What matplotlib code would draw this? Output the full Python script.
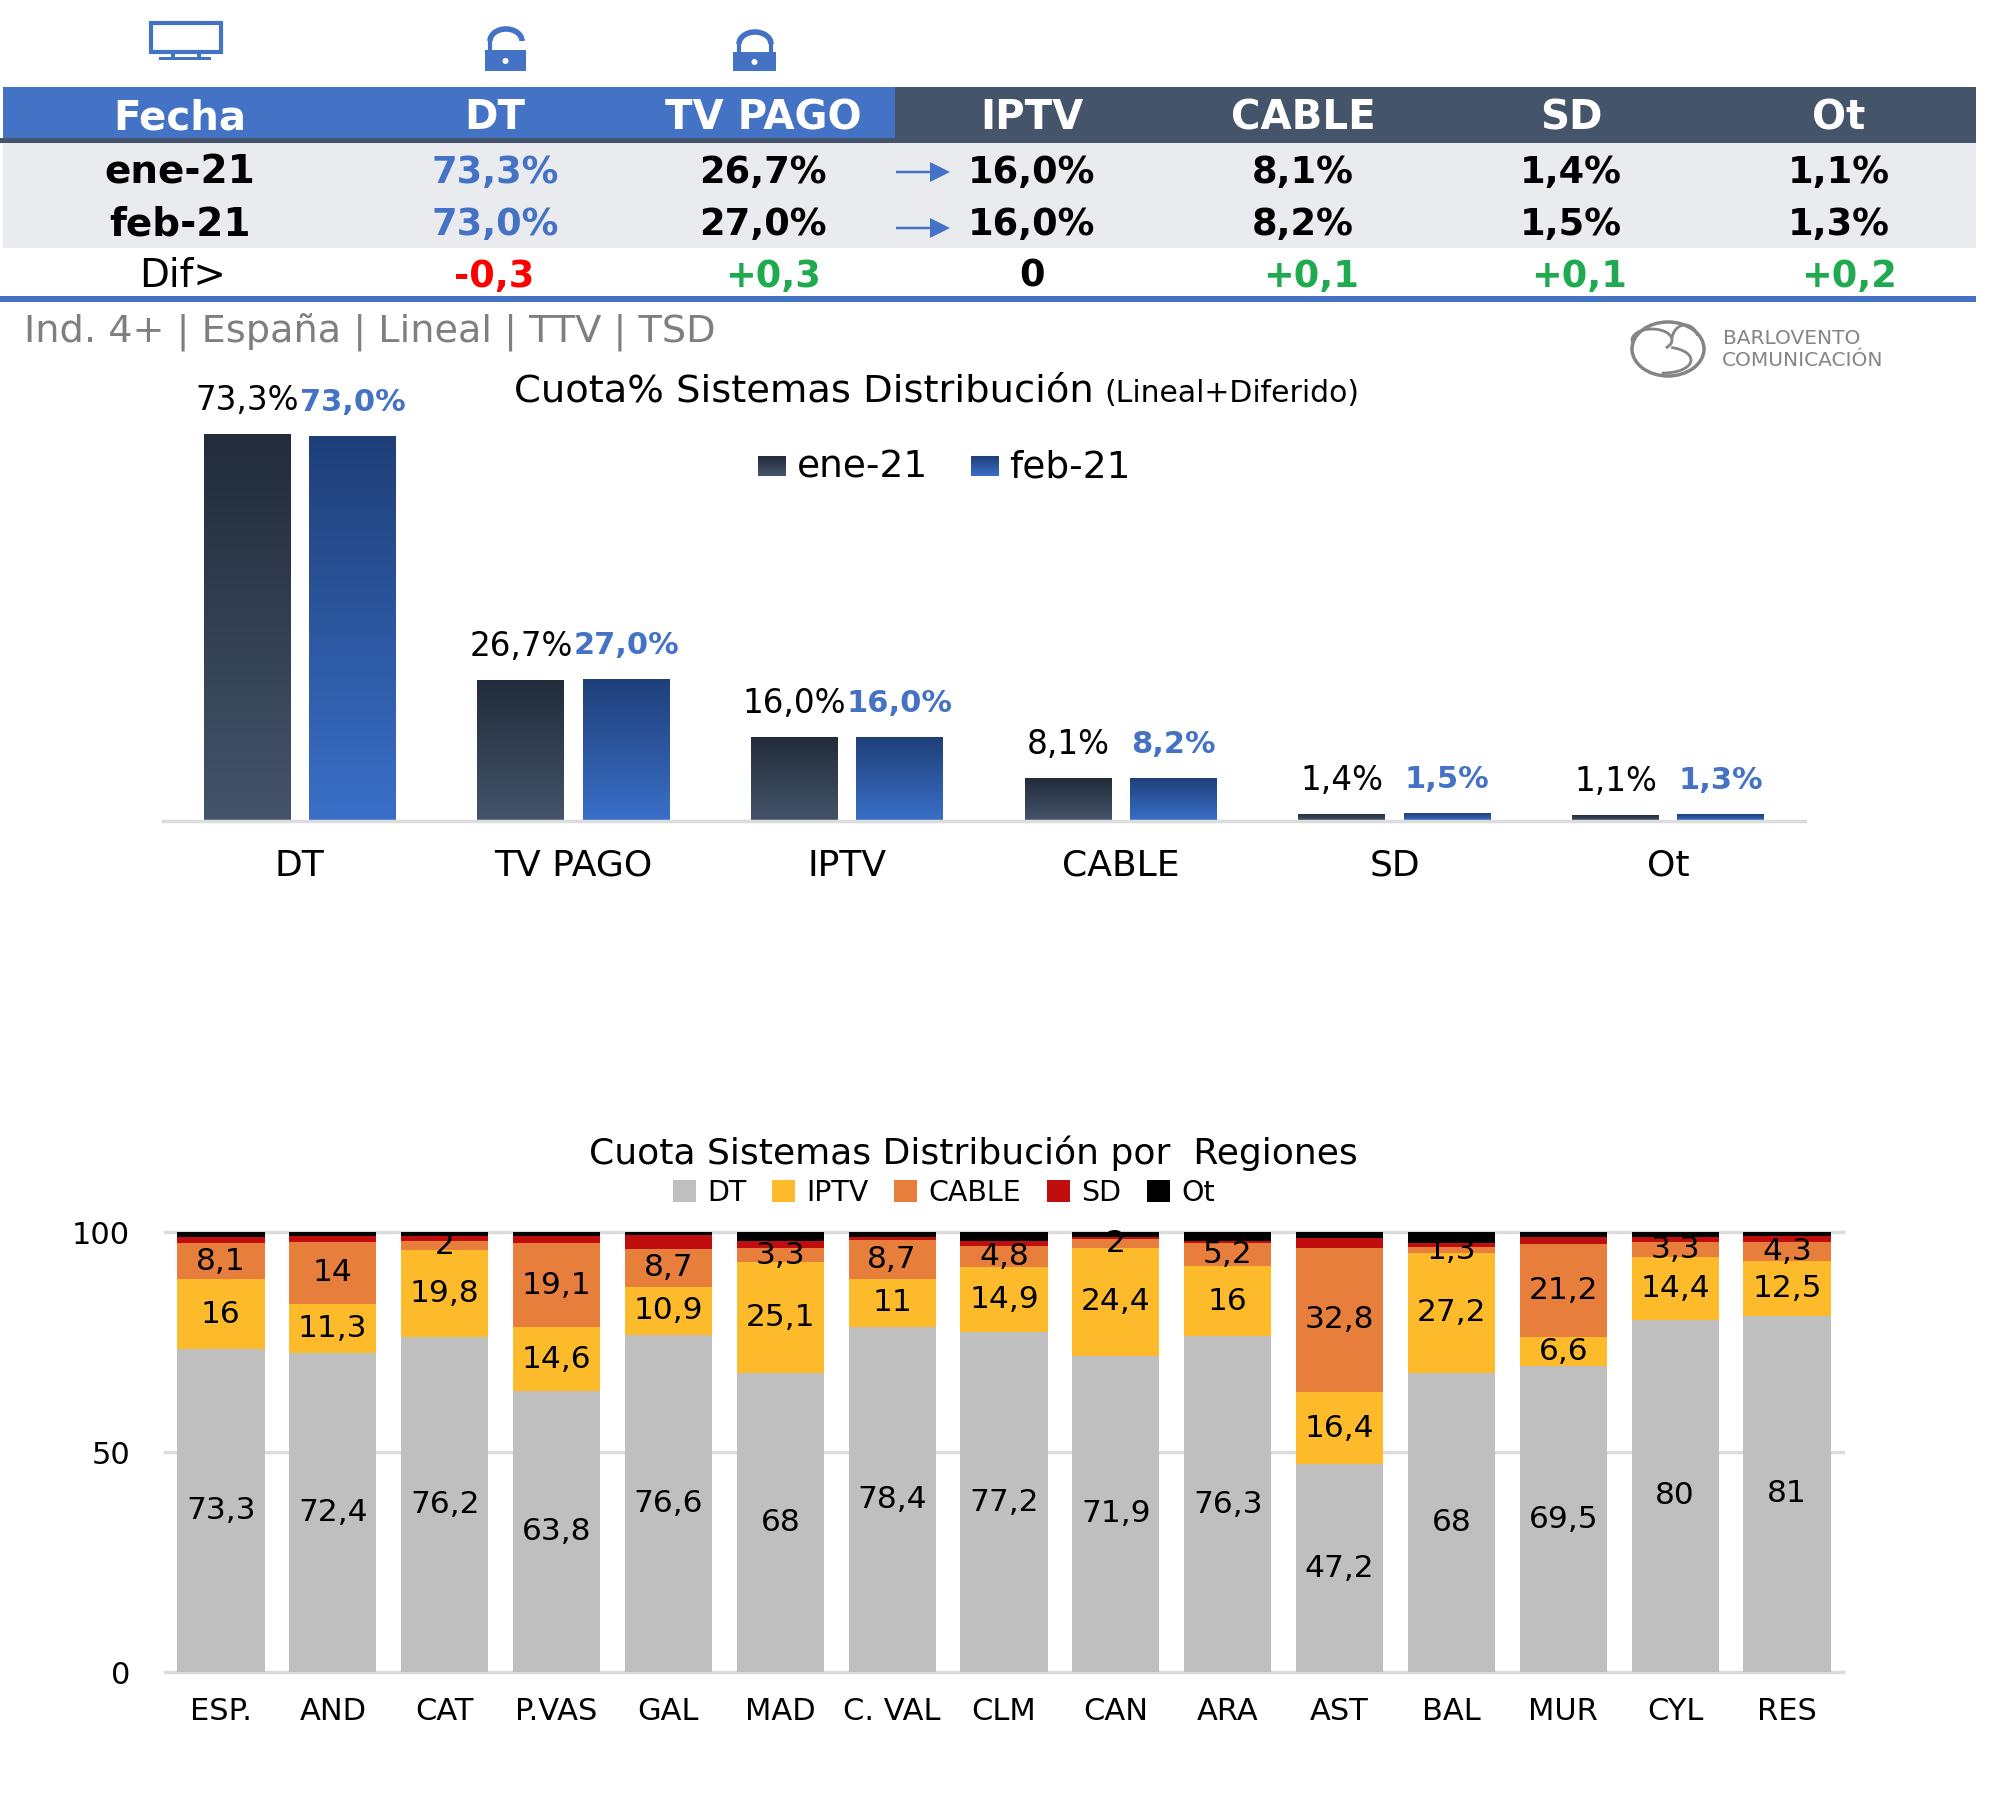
import numpy as np
import matplotlib
matplotlib.use('Agg')
import matplotlib.pyplot as plt
from matplotlib.colors import LinearSegmentedColormap
from matplotlib.patches import Rectangle, Arc, Ellipse, FancyArrow

# table
headers = ['Fecha', 'DT', 'TV PAGO', 'IPTV', 'CABLE', 'SD', 'Ot']
months = ['ene-21', 'feb-21']
share_jan = [73.3, 26.7, 16.0, 8.1, 1.4, 1.1]
share_feb = [73.0, 27.0, 16.0, 8.2, 1.5, 1.3]
dif_labels = ['-0,3', '+0,3', '0', '+0,1', '+0,1', '+0,2']

# regions
regions = ['ESP.', 'AND', 'CAT', 'P.VAS', 'GAL', 'MAD', 'C. VAL', 'CLM', 'CAN', 'ARA',
           'AST', 'BAL', 'MUR', 'CYL', 'RES']
reg_dt = [73.3, 72.4, 76.2, 63.8, 76.6, 68, 78.4, 77.2, 71.9, 76.3, 47.2, 68, 69.5, 80, 81]
reg_iptv = [16, 11.3, 19.8, 14.6, 10.9, 25.1, 11, 14.9, 24.4, 16, 16.4, 27.2, 6.6, 14.4, 12.5]
reg_cable = [8.1, 14, 2, 19.1, 8.7, 3.3, 8.7, 4.8, 2, 5.2, 32.8, 1.3, 21.2, 3.3, 4.3]
reg_sd = [1.4, 1.3, 1.1, 1.5, 3.2, 1.6, 0.8, 1.1, 0.6, 0.5, 2.2, 1.0, 1.6, 1.2, 1.2]
reg_ot = [1.1, 1.0, 0.9, 1.0, 0.6, 2.0, 1.1, 2.0, 1.1, 2.0, 1.4, 2.5, 1.1, 1.1, 1.0]

W, H = 2000, 1809
BLUE = '#4472C4'
DARK = '#44546A'
GREEN = '#1FAA4F'
GRID = '#DCDCDC'
LOGO = '#858585'

cm_jan = LinearSegmentedColormap.from_list('jan', ['#222C3A', '#44546A'])
cm_feb = LinearSegmentedColormap.from_list('feb', ['#1F3F78', '#3A6FC8'])
grad = np.linspace(0, 1, 128).reshape(-1, 1)


def comma(v, fmt='g'):
    return format(v, fmt).replace('.', ',')


def axes_px(x0, y0, x1, y1):
    a = fig.add_axes([x0 / W, 1 - y1 / H, (x1 - x0) / W, (y1 - y0) / H])
    a.patch.set_alpha(0)
    return a


fig = plt.figure(figsize=(W / 100, H / 100), dpi=100, facecolor='white')

# background layer in pixels, for table, icons and logo
bg = fig.add_axes([0, 0, 1, 1])
bg.set_xlim(0, W)
bg.set_ylim(H, 0)
bg.axis('off')

bg.add_patch(Rectangle((3, 87), 892, 56, color=BLUE, lw=0))
bg.add_patch(Rectangle((895, 87), 1081, 56, color=DARK, lw=0))
bg.add_patch(Rectangle((0, 138), 895, 5, color=DARK, lw=0))
bg.add_patch(Rectangle((3, 143), 1973, 105, color='#E9EBEF', lw=0))
bg.add_patch(Rectangle((0, 296), 1976, 6, color=BLUE, lw=0))

col_x = [180, 495, 763, 1032, 1303, 1571, 1839]
dif_x = [494, 773, 1032, 1311, 1579, 1849]
row_y = [173, 224]
for x, h in zip(col_x, headers):
    bg.text(x, 118, h, color='white', fontsize=29, fontweight='bold', ha='center', va='center')
for y, m, vals in zip(row_y, months, [share_jan, share_feb]):
    bg.text(col_x[0], y, m, fontsize=28, fontweight='bold', ha='center', va='center')
    for i, (x, v) in enumerate(zip(col_x[1:], vals)):
        bg.text(x, y, comma(v, '.1f') + '%', fontsize=26.5, fontweight='bold', ha='center',
                va='center', color=BLUE if i == 0 else 'black')
bg.text(col_x[0] + 3, 276, 'Dif>', fontsize=28, ha='center', va='center')
for x, d in zip(dif_x, dif_labels):
    c = 'red' if d.startswith('-') else (GREEN if d.startswith('+') else 'black')
    bg.text(x, 276, d, fontsize=26.5, fontweight='bold', color=c, ha='center', va='center')

# arrows
for y in [172, 228]:
    bg.add_patch(FancyArrow(896, y, 54, 0, width=2.5, head_width=20, head_length=20,
                            length_includes_head=True, color=BLUE, lw=0))

bg.text(24, 332, 'Ind. 4+ | España | Lineal | TTV | TSD', fontsize=27.5, color='#7F7F7F',
        ha='left', va='center')

# monitor icon
bg.add_patch(Rectangle((151, 23), 70, 29, fill=False, ec=BLUE, lw=3))
bg.add_patch(Rectangle((171, 53), 4, 6, color=BLUE, lw=0))
bg.add_patch(Rectangle((197, 53), 4, 6, color=BLUE, lw=0))
bg.add_patch(Rectangle((159, 57), 52, 3, color=BLUE, lw=0))

# open lock
bg.add_patch(Rectangle((485, 50), 41, 21, color=BLUE, lw=0))
bg.add_patch(Arc((506, 41), 32, 24, theta1=180, theta2=360, ec=BLUE, lw=4))
bg.plot([490, 490], [41, 50], color=BLUE, lw=3)
bg.add_patch(Ellipse((505.5, 61), 6, 6, color='white', lw=0))
# closed lock
bg.add_patch(Rectangle((733, 52), 43, 19, color=BLUE, lw=0))
bg.add_patch(Arc((755, 44), 32, 24, theta1=180, theta2=360, ec=BLUE, lw=4))
bg.plot([739, 739], [44, 52], color=BLUE, lw=3)
bg.plot([771, 771], [44, 52], color=BLUE, lw=3)
bg.add_patch(Ellipse((754.5, 62), 6, 6, color='white', lw=0))

# logo
bg.add_patch(Ellipse((1668, 349), 72, 54, fill=False, ec=LOGO, lw=2.5))
bg.add_patch(Arc((1652, 340), 40, 22, theta1=170, theta2=30, ec=LOGO, lw=2))
bg.add_patch(Arc((1664, 360), 54, 26, theta1=300, theta2=100, ec=LOGO, lw=2))
bg.add_patch(Arc((1685, 340), 26, 30, theta1=190, theta2=340, ec=LOGO, lw=2))
bg.text(1723, 338, 'BARLOVENTO', fontsize=14.5, color=LOGO, ha='left', va='center')
bg.text(1722, 361, 'COMUNICACIÓN', fontsize=14.5, color=LOGO, ha='left', va='center')

# share chart
ax = axes_px(163, 362, 1805, 821)
xs = np.arange(len(share_jan))
off, bw = 0.1925, 0.317
for vals, dx, cm, lab_col, weight, fs in [(share_jan, -off, cm_jan, 'black', 'normal', 23.5),
                                          (share_feb, off, cm_feb, BLUE, 'bold', 22)]:
    bars = ax.bar(xs + dx, vals, bw, color=cm(0.5))
    for b, v in zip(bars, vals):
        im = ax.imshow(grad, extent=[b.get_x(), b.get_x() + bw, 0, v], cmap=cm,
                       aspect='auto', vmin=0, vmax=1, zorder=2.5)
        im.set_clip_path(b)
        ax.annotate(comma(v, '.1f') + '%', (b.get_x() + bw / 2, v), xytext=(0, 24),
                    textcoords='offset points', ha='center', va='center', fontsize=fs,
                    color=lab_col, fontweight=weight)
ax.set_xlim(-0.5, 5.5)
ax.set_ylim(0, 87)
ax.set_xticks(xs, headers[1:], fontsize=26)
ax.set_yticks([])
ax.tick_params(axis='x', length=0, pad=20)
for s in ['top', 'left', 'right']:
    ax.spines[s].set_visible(False)
ax.spines['bottom'].set_color(GRID)
ax.spines['bottom'].set_linewidth(2.5)

bg.text(514, 392, 'Cuota% Sistemas Distribución', fontsize=27.7, ha='left', va='center')
bg.text(1104, 394, '(Lineal+Diferido)', fontsize=21.5, ha='left', va='center')

# legend of the share chart, swatches keep the gradient
for x0, m, cm, tx in [(758, months[0], cm_jan, 797), (971, months[1], cm_feb, 1009)]:
    bg.imshow(grad, extent=[x0, x0 + 28, 476, 456], cmap=cm, aspect='auto', vmin=0, vmax=1,
              origin='upper')
    bg.text(tx, 468, m, fontsize=27, ha='left', va='center')
bg.set_xlim(0, W)
bg.set_ylim(H, 0)

# regions chart
ax2 = axes_px(165, 1232, 1843, 1672)
xr = np.arange(len(regions))
series = [('DT', reg_dt, '#BFBFBF'), ('IPTV', reg_iptv, '#FDBB2B'), ('CABLE', reg_cable, '#E87E3C'),
          ('SD', reg_sd, '#C00D0D'), ('Ot', reg_ot, 'black')]
bottom = np.zeros(len(regions))
for name, vals, col in series:
    bars = ax2.bar(xr, vals, 0.78, bottom=bottom, color=col, label=name, zorder=3)
    if name in ('DT', 'IPTV', 'CABLE'):
        ax2.bar_label(bars, labels=[comma(v) for v in vals], label_type='center', fontsize=22.5,
                      zorder=4)
    bottom += np.array(vals)
ax2.set_xlim(-0.5, 14.5)
ax2.set_ylim(0, 100)
ax2.set_yticks([0, 50, 100])
ax2.set_xticks(xr, regions)
ax2.tick_params(axis='x', length=0, labelsize=22, pad=18)
ax2.tick_params(axis='y', length=0, labelsize=22, pad=25)
ax2.grid(axis='y', color=GRID, lw=2.5, zorder=0)
ax2.set_axisbelow(True)
for gl in ax2.get_ygridlines():
    gl.set_clip_on(False)
for s in ax2.spines.values():
    s.set_visible(False)

bg.text(973, 1153, 'Cuota Sistemas Distribución por  Regiones', fontsize=26, ha='center', va='center')
ax2.legend(loc='center', bbox_to_anchor=(944 / W, 1 - 1193 / H), bbox_transform=fig.transFigure,
           ncol=5, frameon=False, fontsize=20.5, handlelength=0.8, handleheight=0.8,
           handletextpad=0.4, columnspacing=0.9, borderpad=0, borderaxespad=0)

fig.savefig('out.png', dpi=100)
